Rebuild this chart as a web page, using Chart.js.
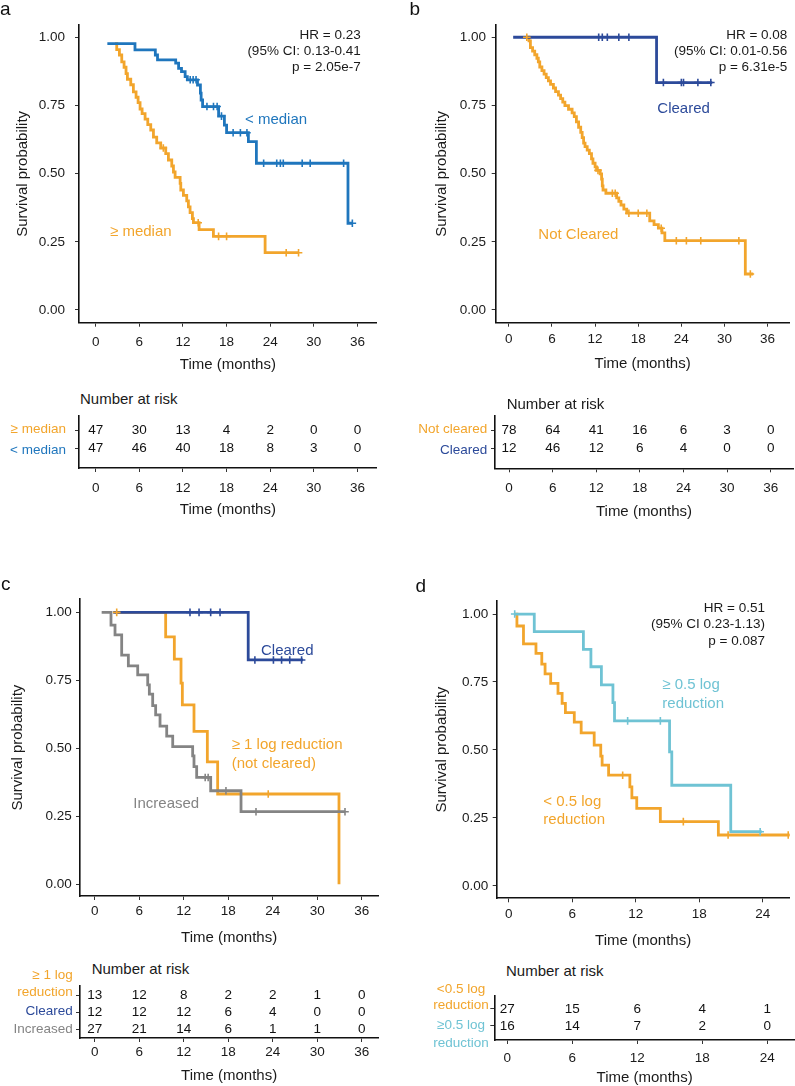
<!DOCTYPE html>
<html><head><meta charset="utf-8">
<script src="https://cdn.jsdelivr.net/npm/chart.js@4.4.1/dist/chart.umd.min.js"></script>
<style>
html,body{margin:0;padding:0;background:#fff}
body{width:795px;height:1086px;position:relative;overflow:hidden;font-family:"Liberation Sans",Arial,Helvetica,sans-serif}
canvas{position:absolute;display:block}
.t{position:absolute;white-space:nowrap;line-height:1;transform:translateY(-50%)}
</style></head><body>
<script>
// ---------------- DATA ----------------
const monthTicks36 = [0, 6, 12, 18, 24, 30, 36];
const monthTicks24 = [0, 6, 12, 18, 24];
const survTicks = [0, 0.25, 0.5, 0.75, 1];

// Panel a
const aBlueT = [1.6, 5.4, 8.2, 8.5, 11.0, 11.4, 11.8, 12.3, 12.6, 14.0, 14.4, 14.5, 14.7, 16.9, 17.7, 18.0, 21.0, 22.1, 34.7, 35.3];
const aBlueS = [0.977, 0.954, 0.935, 0.917, 0.905, 0.886, 0.874, 0.856, 0.844, 0.825, 0.795, 0.770, 0.746, 0.711, 0.678, 0.650, 0.617, 0.538, 0.318, 0.318];
const aBlueCens = [13.0, 13.4, 13.8, 15.3, 16.2, 16.7, 17.3, 18.9, 19.9, 20.8, 23.1, 24.9, 25.4, 25.8, 28.4, 29.5, 34.1, 35.3];
const aOrangeT = [2.66, 2.89, 3.26, 3.58, 3.90, 4.17, 4.36, 4.82, 5.18, 5.55, 5.83, 6.10, 6.38, 6.79, 7.16, 7.57, 7.94, 8.39, 8.94, 9.63, 10.0, 10.46, 10.69, 10.92, 11.61, 11.70, 12.06, 12.52, 12.75, 12.98, 13.30, 13.44, 14.22, 16.19, 23.30, 27.9];
const aOrangeS = [0.977, 0.955, 0.935, 0.910, 0.890, 0.867, 0.846, 0.826, 0.800, 0.780, 0.760, 0.737, 0.720, 0.700, 0.680, 0.660, 0.634, 0.613, 0.594, 0.573, 0.550, 0.528, 0.506, 0.486, 0.464, 0.440, 0.420, 0.400, 0.378, 0.357, 0.335, 0.320, 0.295, 0.270, 0.210, 0.210];
const aOrangeCens = [9.3, 14.1, 16.9, 18.0, 26.2, 27.9];
const aRiskGe = [47, 30, 13, 4, 2, 0, 0];
const aRiskLt = [47, 46, 40, 18, 8, 3, 0];

// Panel b
const bBlueT = [0.6, 20.55, 28.3];
const bBlueS = [1.0, 0.834, 0.834];
const bBlueCens = [12.5, 13.0, 13.7, 15.3, 16.7, 21.5, 24.0, 24.3, 26.3, 28.1];
const bOrangeT = [2.43, 2.8, 3.0, 3.3, 3.6, 3.9, 4.1, 4.3, 4.6, 4.9, 5.2, 5.5, 5.8, 6.2, 6.5, 6.9, 7.2, 7.5, 7.8, 8.3, 8.8, 9.1, 9.4, 9.7, 10.0, 10.2, 10.4, 10.6, 10.9, 11.2, 11.5, 11.7, 12.0, 12.2, 12.7, 12.9, 13.0, 13.1, 13.5, 15.0, 15.3, 15.6, 16.0, 16.4, 19.6, 20.2, 20.8, 21.3, 21.7, 32.9, 34.0];
const bOrangeS = [1.000, 0.987, 0.962, 0.949, 0.936, 0.923, 0.910, 0.891, 0.878, 0.865, 0.852, 0.840, 0.827, 0.814, 0.801, 0.788, 0.775, 0.762, 0.749, 0.736, 0.723, 0.709, 0.690, 0.670, 0.651, 0.632, 0.612, 0.599, 0.586, 0.573, 0.554, 0.538, 0.525, 0.512, 0.499, 0.480, 0.455, 0.440, 0.428, 0.411, 0.398, 0.385, 0.370, 0.355, 0.327, 0.313, 0.300, 0.283, 0.254, 0.132, 0.132];
const bOrangeCens = [2.5, 12.4, 14.4, 14.8, 16.7, 18.0, 19.2, 21.2, 23.3, 24.7, 26.7, 32.0, 33.6];
const bRiskNot = [78, 64, 41, 16, 6, 3, 0];
const bRiskCl = [12, 46, 12, 6, 4, 0, 0];

// Panel c
const cBlueT = [2.5, 20.7, 28.1];
const cBlueS = [1.0, 0.825, 0.825];
const cBlueCens = [12.85, 14.07, 15.64, 16.9, 21.6, 24.1, 25.2, 26.3, 27.9];
const cYellowT = [2.74, 9.57, 10.74, 11.64, 11.82, 13.39, 15.19, 16.58, 32.94];
const cYellowS = [1.0, 0.910, 0.828, 0.740, 0.660, 0.562, 0.450, 0.332, 0.0];
const cYellowCens = [2.97, 23.4];
const cGreyT = [0.94, 2.2, 2.74, 3.64, 4.54, 5.80, 7.15, 7.37, 7.82, 8.22, 8.81, 9.71, 10.52, 13.21, 13.39, 13.75, 15.64, 19.73, 33.75];
const cGreyS = [1.0, 0.953, 0.917, 0.843, 0.803, 0.770, 0.733, 0.699, 0.657, 0.623, 0.582, 0.545, 0.506, 0.472, 0.433, 0.393, 0.344, 0.267, 0.267];
const cGreyCens = [14.9, 15.3, 17.7, 21.75, 33.75];
const cRiskLog = [13, 12, 8, 2, 2, 1, 0];
const cRiskCl = [12, 12, 12, 6, 4, 0, 0];
const cRiskInc = [27, 21, 14, 6, 1, 1, 0];

// Panel d
const dCyanT = [0.56, 2.41, 7.05, 7.76, 8.75, 9.84, 9.99, 15.19, 15.4, 20.97, 23.9];
const dCyanS = [1.0, 0.935, 0.870, 0.806, 0.739, 0.674, 0.607, 0.493, 0.370, 0.199, 0.199];
const dCyanCens = [0.56, 11.23, 14.32, 23.75];
const dOrangeT = [0.62, 0.77, 1.39, 2.57, 3.12, 3.43, 3.96, 4.65, 5.04, 5.35, 6.19, 6.84, 8.07, 8.69, 8.82, 9.43, 11.44, 11.63, 12.09, 14.32, 19.8, 26.6];
const dOrangeS = [1.0, 0.956, 0.890, 0.855, 0.816, 0.780, 0.745, 0.708, 0.671, 0.637, 0.602, 0.563, 0.518, 0.477, 0.444, 0.407, 0.364, 0.324, 0.285, 0.236, 0.187, 0.187];
const dOrangeCens = [10.76, 16.49, 20.72, 26.4];
const dRiskLt = [27, 15, 6, 4, 1];
const dRiskGe = [16, 14, 7, 2, 0];

// ---------------- STYLE ----------------
const ORANGE = '#F2A52C', BLUE = '#1F76BD', DBLUE = '#2C4A9A', GREY = '#848484', CYAN = '#6FC3D4', INK = '#1a1a1a';
const FONT = '"Liberation Sans", Arial, Helvetica, sans-serif';
Chart.defaults.font.family = FONT;
Chart.defaults.color = INK;

function sAt(T, S, t) { let v = S[0]; for (let i = 0; i < T.length; i++) { if (T[i] <= t) v = S[i]; } return v; }
function km(T, S, color) {
  return { data: T.map((t, i) => ({ x: t, y: S[i] })), showLine: true, stepped: true, borderColor: color,
    borderWidth: 2.8, pointRadius: 0, pointHoverRadius: 0, fill: false, borderJoinStyle: 'miter' };
}
function cens(T, S, C, color) {
  return { data: C.map(t => ({ x: t, y: sAt(T, S, t) })), showLine: false, pointStyle: 'cross', pointRadius: 3.8,
    pointHoverRadius: 3.8, borderColor: color, pointBorderColor: color, pointBorderWidth: 1.6, borderWidth: 1.6 };
}

function addText(txt, x, y, size, color, align) {
  const d = document.createElement('div');
  d.className = 't'; d.textContent = txt;
  d.style.fontSize = size + 'px'; d.style.color = color; d.style.top = y + 'px';
  if (align === 'right') d.style.right = (795 - x) + 'px';
  else if (align === 'center') { d.style.left = x + 'px'; d.style.transform = 'translate(-50%,-50%)'; }
  else d.style.left = x + 'px';
  document.body.appendChild(d);
}

const riskPlugin = {
  id: 'risk',
  afterDatasetsDraw(chart, args, opts) {
    if (!opts || !opts.rows) return;
    const { ctx } = chart; const x = chart.scales.x, y = chart.scales.y;
    ctx.save();
    ctx.font = '13.5px ' + FONT; ctx.fillStyle = '#111'; ctx.textAlign = 'center'; ctx.textBaseline = 'middle';
    opts.rows.forEach((vals, r) => vals.forEach((v, i) => {
      ctx.fillText(String(v), x.getPixelForValue(opts.times[i]), y.getPixelForValue(r + 1));
    }));
    ctx.restore();
  }
};

function build(g, datasets, sc, risk) {
  const c = document.createElement('canvas');
  c.width = g.x1 - g.x0; c.height = g.y1 - g.y0;
  c.style.left = g.x0 + 'px'; c.style.top = g.y0 + 'px';
  c.style.width = c.width + 'px'; c.style.height = c.height + 'px';
  document.body.appendChild(c);
  const padL = g.L - g.x0, padT = g.T - g.y0, padR = g.x1 - g.R, padB = g.y1 - g.B;
  const yScale = risk ? {
    type: 'linear', reverse: true, min: sc.ymin, max: sc.ymax,
    afterBuildTicks: s => { s.ticks = risk.rows.map((r, i) => ({ value: i + 1 })); },
    afterFit: s => { s.width = padL; s.paddingTop = 0; s.paddingBottom = 0; },
    grid: { drawOnChartArea: false, drawTicks: true, tickLength: 4, tickColor: '#333', tickWidth: 1 },
    border: { display: true, color: '#111', width: 1.6 },
    ticks: { callback: () => '', padding: 0 }
  } : {
    type: 'linear', min: sc.ymin, max: sc.ymax,
    afterBuildTicks: s => { s.ticks = survTicks.map(v => ({ value: v })); },
    afterFit: s => { s.width = padL; s.paddingTop = 0; s.paddingBottom = 0; },
    grid: { drawOnChartArea: false, drawTicks: true, tickLength: 4, tickColor: '#333', tickWidth: 1 },
    border: { display: true, color: '#111', width: 1.6 },
    ticks: { padding: sc.ypad, font: { size: 13.5 }, color: INK, callback: v => Number(v).toFixed(2) },
    title: { display: true, text: 'Survival probability', font: { size: 15, lineHeight: 1.2 }, color: INK,
      padding: { top: sc.ytpad, bottom: 0 } }
  };
  return new Chart(c, {
    type: 'scatter',
    data: { datasets },
    plugins: [riskPlugin],
    options: {
      responsive: false, animation: false, devicePixelRatio: 1, events: [],
      layout: { padding: { left: 0, top: padT, right: padR, bottom: 0 } },
      plugins: { legend: { display: false }, tooltip: { enabled: false }, risk: risk || {} },
      scales: {
        x: {
          type: 'linear', min: sc.xmin, max: sc.xmax,
          afterBuildTicks: s => { s.ticks = sc.xticks.map(v => ({ value: v })); },
          afterFit: s => { s.height = padB; s.paddingLeft = 0; s.paddingRight = 0; },
          grid: { drawOnChartArea: false, drawTicks: true, tickLength: 4, tickColor: '#333', tickWidth: 1 },
          border: { display: true, color: '#111', width: 1.6 },
          ticks: { padding: sc.xpad, font: { size: 13.5 }, color: INK, maxRotation: 0, autoSkip: false, callback: v => String(v) },
          title: { display: true, text: 'Time (months)', font: { size: 15, lineHeight: 1.2 }, color: INK,
            padding: { top: 0, bottom: sc.xtpad } }
        },
        y: yScale
      }
    }
  });
}

// ---------------- PANEL a ----------------
build({ x0: 0, y0: 18, x1: 395, y1: 380, L: 79, T: 25, R: 376.7, B: 322.7 },
  [cens(aBlueT, aBlueS, aBlueCens, BLUE), cens(aOrangeT, aOrangeS, aOrangeCens, ORANGE), km(aBlueT, aBlueS, BLUE), km(aOrangeT, aOrangeS, ORANGE)],
  { xmin: -2.30, xmax: 38.65, xticks: monthTicks36, ymin: -0.0466, ymax: 1.045, xpad: 7, ypad: 10, ytpad: 14.3, xtpad: 6 });
build({ x0: 0, y0: 408, x1: 395, y1: 525, L: 79, T: 416, R: 376.7, B: 468 },
  [], { xmin: -2.30, xmax: 38.65, xticks: monthTicks36, ymin: 0.171, ymax: 3.143, xpad: 8.6, xtpad: 6 },
  { rows: [aRiskGe, aRiskLt], times: monthTicks36 });

// ---------------- PANEL b ----------------
build({ x0: 400, y0: 18, x1: 795, y1: 380, L: 495.7, T: 25, R: 793, B: 322.7 },
  [cens(bBlueT, bBlueS, bBlueCens, DBLUE), cens(bOrangeT, bOrangeS, bOrangeCens, ORANGE), km(bBlueT, bBlueS, DBLUE), km(bOrangeT, bOrangeS, ORANGE)],
  { xmin: -1.83, xmax: 39.06, xticks: monthTicks36, ymin: -0.0466, ymax: 1.045, xpad: 4.4, ypad: 5.7, ytpad: 32.7, xtpad: 7.5 });
build({ x0: 400, y0: 408, x1: 795, y1: 525, L: 495, T: 416, R: 793, B: 468.3 },
  [], { xmin: -1.93, xmax: 39.07, xticks: monthTicks36, ymin: 0.171, ymax: 3.16, xpad: 8.3, xtpad: 4.3 },
  { rows: [bRiskNot, bRiskCl], times: monthTicks36 });

// ---------------- PANEL c ----------------
build({ x0: 0, y0: 592, x1: 395, y1: 955, L: 80, T: 599.3, R: 378.3, B: 896 },
  [cens(cBlueT, cBlueS, cBlueCens, DBLUE), cens(cYellowT, cYellowS, cYellowCens, ORANGE), cens(cGreyT, cGreyS, cGreyCens, GREY),
   km(cBlueT, cBlueS, DBLUE), km(cGreyT, cGreyS, GREY), km(cYellowT, cYellowS, ORANGE)],
  { xmin: -1.98, xmax: 38.24, xticks: monthTicks36, ymin: -0.043, ymax: 1.048, xpad: 2.7, ypad: 4.3, ytpad: 9.3, xtpad: 8 });
build({ x0: 0, y0: 980, x1: 395, y1: 1086, L: 80, T: 986, R: 378.3, B: 1038 },
  [], { xmin: -1.98, xmax: 38.24, xticks: monthTicks36, ymin: 0.475, ymax: 3.507, xpad: 2.4, xtpad: 1.5 },
  { rows: [cRiskLog, cRiskCl, cRiskInc], times: monthTicks36 });

// ---------------- PANEL d ----------------
build({ x0: 400, y0: 594, x1: 795, y1: 955, L: 496.7, T: 601, R: 795, B: 898.3 },
  [cens(dCyanT, dCyanS, dCyanCens, CYAN), cens(dOrangeT, dOrangeS, dOrangeCens, ORANGE), km(dCyanT, dCyanS, CYAN), km(dOrangeT, dOrangeS, ORANGE)],
  { xmin: -1.14, xmax: 26.53, xticks: monthTicks24, ymin: -0.046, ymax: 1.048, xpad: 4.1, ypad: 4.4, ytpad: 32.7, xtpad: 5.2 });
build({ x0: 400, y0: 988, x1: 795, y1: 1090, L: 494.3, T: 995.7, R: 795, B: 1040 },
  [], { xmin: -1.2, xmax: 26.56, xticks: monthTicks24, ymin: 0.218, ymax: 2.824, xpad: 5.7, xtpad: 3.3 },
  { rows: [dRiskLt, dRiskGe], times: monthTicks24 });

// ---------------- TEXT ----------------
addText('a', 0, 8.3, 19, '#111', 'left');
addText('HR = 0.23', 360.7, 35.3, 13.5, INK, 'right');
addText('(95% CI: 0.13-0.41', 360.7, 51.3, 13.5, INK, 'right');
addText('p = 2.05e-7', 360.7, 67.3, 13.5, INK, 'right');
addText('< median', 245, 118.1, 15, BLUE, 'left');
addText('≥ median', 110, 229.8, 15, ORANGE, 'left');
addText('Number at risk', 80, 398.1, 15, INK, 'left');
addText('≥ median', 66, 428.6, 13.5, ORANGE, 'right');
addText('< median', 66, 450.3, 13.5, BLUE, 'right');

addText('b', 409.5, 8.4, 19, '#111', 'left');
addText('HR = 0.08', 787.3, 35.3, 13.5, INK, 'right');
addText('(95% CI: 0.01-0.56', 787.3, 51.3, 13.5, INK, 'right');
addText('p = 6.31e-5', 787.3, 67.3, 13.5, INK, 'right');
addText('Cleared', 657.3, 106.5, 15, DBLUE, 'left');
addText('Not Cleared', 538.3, 233.1, 15, ORANGE, 'left');
addText('Number at risk', 506.7, 403.1, 15, INK, 'left');
addText('Not cleared', 487.3, 429.3, 13.5, ORANGE, 'right');
addText('Cleared', 487.3, 450.3, 13.5, DBLUE, 'right');

addText('c', 1, 583.4, 19, '#111', 'left');
addText('Cleared', 261, 649.1, 15, DBLUE, 'left');
addText('≥ 1 log reduction', 231.7, 743.1, 15, ORANGE, 'left');
addText('(not cleared)', 231.7, 761.5, 15, ORANGE, 'left');
addText('Increased', 133.3, 801.5, 15, GREY, 'left');
addText('Number at risk', 91.7, 968.1, 15, INK, 'left');
addText('≥ 1 log', 72.7, 974.6, 13.5, ORANGE, 'right');
addText('reduction', 72.7, 992, 13.5, ORANGE, 'right');
addText('Cleared', 72.7, 1011, 13.5, DBLUE, 'right');
addText('Increased', 72.7, 1029.3, 13.5, GREY, 'right');

addText('d', 415.5, 585.1, 19, '#111', 'left');
addText('HR = 0.51', 765, 608, 13.5, INK, 'right');
addText('(95% CI 0.23-1.13)', 765, 624.3, 13.5, INK, 'right');
addText('p = 0.087', 765, 640.6, 13.5, INK, 'right');
addText('≥ 0.5 log', 662.3, 683.1, 15, CYAN, 'left');
addText('reduction', 662.3, 701.5, 15, CYAN, 'left');
addText('< 0.5 log', 543.3, 799.8, 15, ORANGE, 'left');
addText('reduction', 543.3, 818.1, 15, ORANGE, 'left');
addText('Number at risk', 506, 969.8, 15, INK, 'left');
addText('<0.5 log', 461, 988.5, 13.5, ORANGE, 'center');
addText('reduction', 461, 1005.3, 13.5, ORANGE, 'center');
addText('≥0.5 log', 461, 1025.3, 13.5, CYAN, 'center');
addText('reduction', 461, 1043, 13.5, CYAN, 'center');
</script>
</body></html>
